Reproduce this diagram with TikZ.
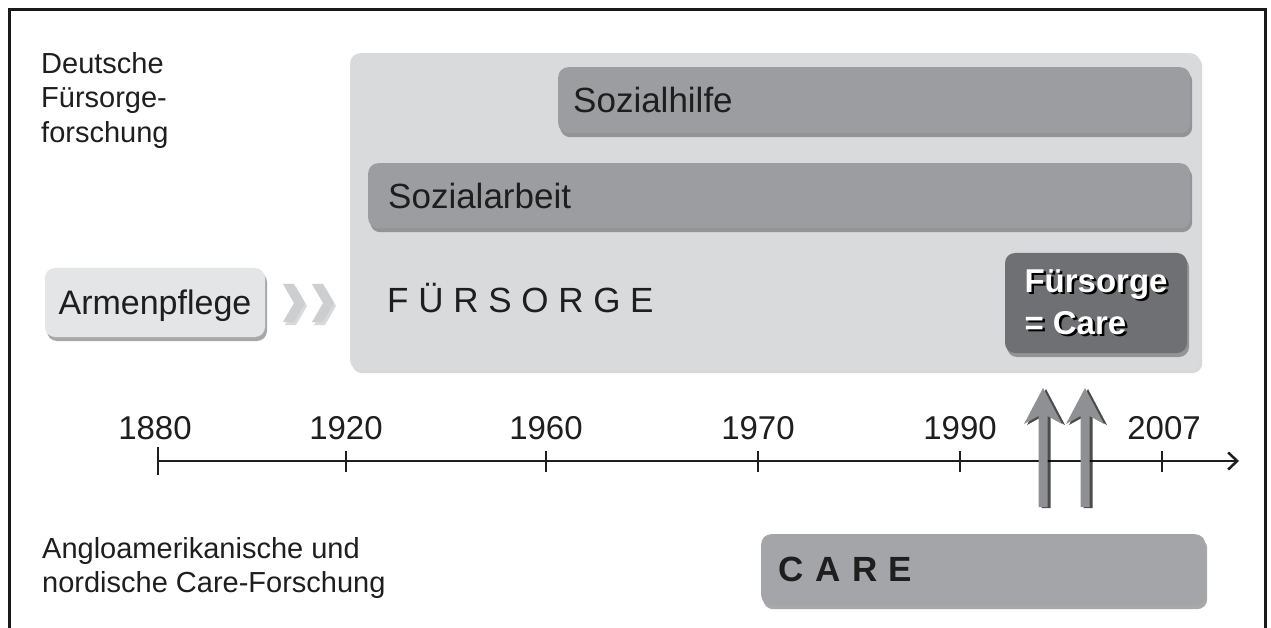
\documentclass[tikz,border=0pt]{standalone}
\usepackage{fontspec}
\setmainfont{Liberation Sans}
\usetikzlibrary{shadows,arrows.meta}
\definecolor{txt}{HTML}{1E1E1E}
\definecolor{bigbox}{HTML}{D9DADC}
\definecolor{lightbox}{HTML}{E4E5E6}
\definecolor{midbox}{HTML}{9C9DA0}
\definecolor{carebox}{HTML}{A4A5A8}
\definecolor{darkbox}{HTML}{6F7073}
\definecolor{arrowc}{HTML}{8F9093}
\definecolor{chev}{HTML}{CDCED0}
\newcommand\shtext[1]{\makebox[0pt][l]{\hspace{2.5pt}\raisebox{-2.5pt}{\textcolor{black}{#1}}}#1}
\tikzset{
  box/.style={rounded corners=10pt, inner sep=0pt, draw=none, anchor=north west},
  shadowed/.style={drop shadow={shadow xshift=2pt, shadow yshift=-4pt, opacity=0.45, fill=black!75}},
  softshadow/.style={drop shadow={shadow xshift=2pt, shadow yshift=-3pt, opacity=0.25, fill=black!60}},
  boxtext/.style={font=\fontsize{35}{42}\selectfont, text=txt},
  lbl/.style={font=\fontsize{29}{34.5}\selectfont, text=txt, inner sep=0pt, anchor=north west, align=left},
  year/.style={font=\fontsize{33}{40}\selectfont, text=txt, anchor=base, inner sep=0pt},
  tick/.style={line width=2.7pt, draw=txt},
  axis/.style={line width=2.7pt, draw=txt},
  uparrow/.style={fill=arrowc, drop shadow={shadow xshift=3pt, shadow yshift=-1pt, opacity=0.7, fill=black}},
  chevron/.style={fill=chev, drop shadow={shadow xshift=2pt, shadow yshift=-3pt, opacity=0.15, fill=black}},
}
\begin{document}
\begin{tikzpicture}[x=1pt,y=-1pt]
\useasboundingbox (0,0) rectangle (1271,628);
\fill[white] (0,0) rectangle (1271,628);

% frame
\draw[line width=3pt, black!90] (9.5,630) -- (9.5,9.5) -- (1265.5,9.5) -- (1265.5,630);

% left labels
\node[lbl] (dfs) at (41,52) {Deutsche\\Fürsorge-\\forschung};
\node[lbl] (acf) at (42,537) {Angloamerikanische und\\nordische Care-Forschung};

% big FÜRSORGE box
\node[box, fill=bigbox, softshadow, minimum width=850, minimum height=317] (fs) at (350,53) {};
\node[boxtext, anchor=base west, inner sep=0pt] (fslbl) at (387,312) {F Ü R S O R G E};

% Sozialhilfe
\node[box, fill=midbox, shadowed, minimum width=632, minimum height=66,
      text width=602, inner xsep=15, align=left, boxtext] (sh) at (558,67) {Sozialhilfe};
% Sozialarbeit
\node[box, fill=midbox, shadowed, minimum width=822, minimum height=65,
      text width=782, inner xsep=20, align=left, boxtext] (sa) at (368,163) {Sozialarbeit};

% Fürsorge = Care
\node[rounded corners=10pt, fill=darkbox, shadowed, minimum width=182, minimum height=100,
      inner sep=0pt, align=left, text=white,
      font=\fontsize{33}{42}\selectfont\bfseries] (fc) at (1096,303) {\shtext{Fürsorge}\\\shtext{= Care}};

% Armenpflege
\node[rounded corners=10pt, fill=lightbox, shadowed, minimum width=220, minimum height=69,
      inner sep=0pt, text depth=0pt, boxtext, font=\fontsize{34}{40}\selectfont] (ap) at (155,302.5) {Armenpflege};

% chevrons
\foreach \cx in {283,312}{
  \path[chevron] (\cx,284) -- (\cx+11,284) -- (\cx+22,303) -- (\cx+11,322) -- (\cx,322) -- (\cx+11,303) -- cycle;
}

% axis
\coordinate (ax0) at (158,461);
\coordinate (ax1) at (1239,461);
\draw[axis, -{Straight Barb[length=9pt,width=17pt,line width=2.5pt]}] (ax0) -- (ax1);
\draw[tick] (158,447) -- (158,475);
\foreach \tx in {346,546,758,960,1162}{
  \draw[tick] (\tx,451) -- (\tx,472);
}
\node[year] (y1880) at (155,439) {1880};
\node[year] (y1920) at (346,439) {1920};
\node[year] (y1960) at (546,439) {1960};
\node[year] (y1970) at (758,439) {1970};
\node[year] (y1990) at (960,439) {1990};
\node[year] (y2007) at (1164,439) {2007};

% up arrows
\foreach \ux in {1043,1085}{
  \path[uparrow] (\ux-4.5,507) -- (\ux-4.5,416) -- (\ux-19,424) -- (\ux,388) -- (\ux+19,424) -- (\ux+4.5,416) -- (\ux+4.5,507) -- cycle;
}

% CARE
\node[box, fill=carebox, shadowed, minimum width=444, minimum height=71,
      text width=410, inner xsep=17, align=left, text=txt,
      font=\fontsize{35}{42}\selectfont\bfseries] (care) at (761,534) {C A R E};
\end{tikzpicture}
\end{document}
